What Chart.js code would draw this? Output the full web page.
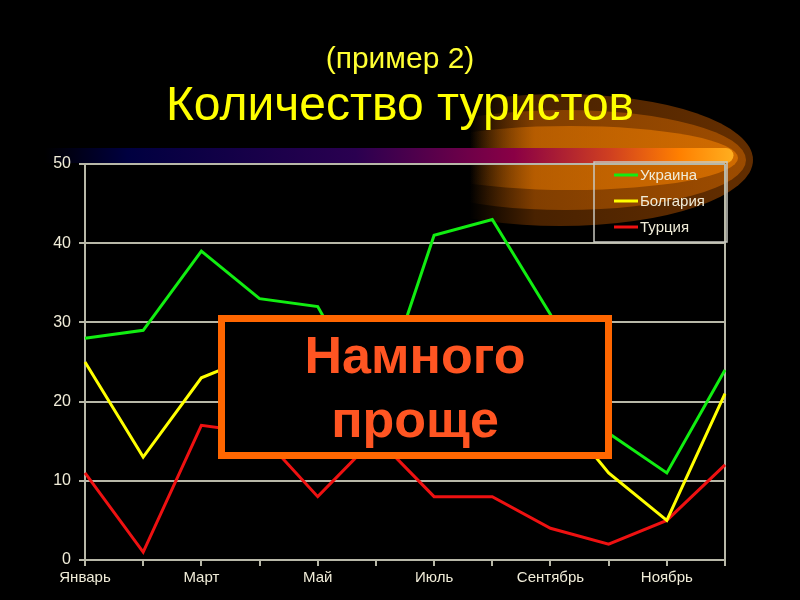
<!DOCTYPE html>
<html>
<head>
<meta charset="utf-8">
<script src="https://cdn.jsdelivr.net/npm/chart.js@4.4.1/dist/chart.umd.min.js"></script>
<style>
  html, body { margin: 0; padding: 0; background: #000; }
  #wrap { position: relative; width: 800px; height: 600px; overflow: hidden; }
  #note {
    position: absolute; left: 218px; top: 315px; width: 394px; height: 144px;
    box-sizing: border-box; border: 7px solid #ff6600; background: #000;
    color: #ff5522; font: bold 52px "Liberation Sans", Arial, sans-serif;
    line-height: 64px; text-align: center; padding-top: 1px;
  }
</style>
</head>
<body>
<div id="wrap">
  <canvas id="touristChart" width="800" height="600"></canvas>
  <div id="note">Намного<br>проще</div>
</div>
<script>
var months = ['Январь', 'Февраль', 'Март', 'Апрель', 'Май', 'Июнь',
              'Июль', 'Август', 'Сентябрь', 'Октябрь', 'Ноябрь', 'Декабрь'];
var ukraine  = [28, 29, 39, 33, 32, 19, 41, 43, 31, 16, 11, 24];
var bulgaria = [25, 13, 23, 26, 22, 24, 27, 26, 20, 11, 5, 21];
var turkey   = [11, 1, 17, 16, 8, 15.5, 8, 8, 4, 2, 5, 12];
var yTicks   = [0, 10, 20, 30, 40, 50];

var gridColor = '#b8b8a8';
var textColor = '#f0ecd8';

// black backdrop, orange glow and the gradient band above the plot
var backdrop = {
    id: 'backdrop',
    beforeDraw: function(chart) {
        var c = chart.ctx;
        c.save();
        c.fillStyle = '#000';
        c.fillRect(0, 0, chart.width, chart.height);

        var layers = [
            { cx: 560, cy: 160, rx: 193, ry: 66, col: '130,60,0', a: 0.75 },
            { cx: 565, cy: 160, rx: 181, ry: 50, col: '180,88,0', a: 0.7 },
            { cx: 570, cy: 158, rx: 168, ry: 32, col: '230,120,0', a: 0.7 }
        ];
        layers.forEach(function(l) {
            var g = c.createLinearGradient(470, 0, 730, 0);
            g.addColorStop(0, 'rgba(' + l.col + ',0)');
            g.addColorStop(0.25, 'rgba(' + l.col + ',' + (l.a * 0.75) + ')');
            g.addColorStop(1, 'rgba(' + l.col + ',' + l.a + ')');
            c.fillStyle = g;
            c.beginPath();
            c.ellipse(l.cx, l.cy, l.rx, l.ry, 0, 0, Math.PI * 2);
            c.fill();
        });

        var band = c.createLinearGradient(45, 0, 735, 0);
        band.addColorStop(0, '#000000');
        band.addColorStop(0.12, '#000040');
        band.addColorStop(0.45, '#2a0050');
        band.addColorStop(0.68, '#8a0045');
        band.addColorStop(0.82, '#d04020');
        band.addColorStop(0.92, '#ff8000');
        band.addColorStop(1, '#ffb020');
        c.fillStyle = band;
        c.beginPath();
        c.moveTo(45, 148);
        c.lineTo(726, 148);
        c.arc(726, 155.5, 7.5, -Math.PI / 2, Math.PI / 2);
        c.lineTo(45, 163);
        c.closePath();
        c.fill();
        c.restore();
    }
};

// legend box inside the plot, top right
var boxLegend = {
    id: 'boxLegend',
    afterDraw: function(chart) {
        var c = chart.ctx;
        var x0 = 594, y0 = 162, w = 133, h = 80;
        c.save();
        c.strokeStyle = '#c8c8c0';
        c.lineWidth = 1.5;
        c.strokeRect(x0, y0, w, h);
        c.font = '15px "Liberation Sans", Arial, sans-serif';
        c.textBaseline = 'middle';
        chart.data.datasets.forEach(function(ds, i) {
            var y = 175 + i * 26;
            c.strokeStyle = ds.borderColor;
            c.lineWidth = 3;
            c.beginPath();
            c.moveTo(614, y);
            c.lineTo(638, y);
            c.stroke();
            c.fillStyle = textColor;
            c.fillText(ds.label, 640, y + 1);
        });
        c.restore();
    }
};

var chart = new Chart(document.getElementById('touristChart'), {
    type: 'line',
    data: {
        labels: months,
        datasets: [{
            label: 'Украина',
            data: ukraine,
            borderColor: '#11ee11',
            borderWidth: 3
        }, {
            label: 'Болгария',
            data: bulgaria,
            borderColor: '#ffff00',
            borderWidth: 3
        }, {
            label: 'Турция',
            data: turkey,
            borderColor: '#ee1111',
            borderWidth: 3
        }]
    },
    options: {
        responsive: false,
        animation: false,
        layout: { padding: 0 },
        elements: {
            point: { radius: 0 },
            line: { tension: 0 }
        },
        scales: {
            x: {
                offset: false,
                afterFit: function(s) { s.height = 40; },
                border: { color: gridColor, width: 2 },
                grid: {
                    color: function(ctx) { return ctx.index === 11 ? gridColor : 'transparent'; },
                    tickColor: gridColor,
                    lineWidth: 2,
                    tickLength: 6
                },
                ticks: {
                    autoSkip: false,
                    maxRotation: 0,
                    color: textColor,
                    padding: 3,
                    font: { family: '"Liberation Sans", Arial, sans-serif', size: 15 },
                    callback: function(v, i) { return i % 2 ? '' : months[i]; }
                }
            },
            y: {
                min: 0,
                max: 50,
                afterFit: function(s) { s.width = 85; },
                afterBuildTicks: function(s) {
                    s.ticks = yTicks.map(function(v) { return { value: v }; });
                },
                border: { color: gridColor, width: 2 },
                grid: { color: gridColor, lineWidth: 2, tickLength: 6 },
                ticks: {
                    color: textColor,
                    padding: 8,
                    font: { family: '"Liberation Sans", Arial, sans-serif', size: 16 }
                }
            },
            // empty right-hand axis that only reserves the right margin
            yRight: {
                position: 'right',
                afterFit: function(s) { s.width = 75; },
                grid: { display: false },
                border: { display: false },
                ticks: { display: false }
            }
        },
        plugins: {
            legend: { display: false },
            tooltip: { enabled: false },
            title: {
                display: true,
                text: '(пример 2)',
                color: '#ffff33',
                font: { family: '"Liberation Sans", Arial, sans-serif', size: 30, weight: 'normal', lineHeight: 1.2 },
                padding: { top: 42, bottom: 0 }
            },
            subtitle: {
                display: true,
                text: 'Количество туристов',
                color: '#ffff00',
                font: { family: '"Liberation Sans", Arial, sans-serif', size: 48, weight: 'normal', lineHeight: 1.2 },
                padding: { top: 0, bottom: 28.4 }
            }
        }
    },
    plugins: [backdrop, boxLegend]
});
</script>
</body>
</html>
